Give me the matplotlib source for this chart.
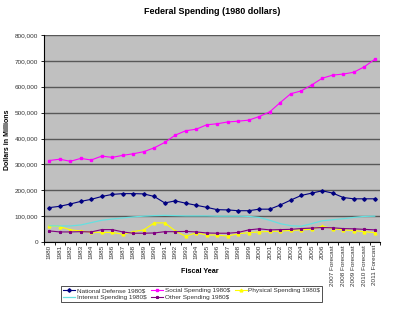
import numpy as np
import matplotlib.pyplot as plt
from matplotlib.ticker import FuncFormatter, MultipleLocator

plt.rcParams['font.family'] = ['Liberation Sans', 'DejaVu Sans']

years = [str(y) for y in range(1980, 2007)] + \
        [f"{y} Forecast" for y in range(2007, 2012)]

# spending in millions of 1980 dollars
defense = [133, 138, 147, 157, 165, 176, 184, 187, 187, 186, 176, 151, 159, 150, 142, 134,
           125, 124, 121, 121, 127, 127, 143, 162, 180, 189, 198, 189, 172, 167, 167, 167]
social = [315, 320, 312, 323, 317, 332, 327, 335, 341, 349, 364, 385, 413, 430, 436, 453,
          457, 464, 467, 471, 485, 503, 539, 573, 584, 607, 633, 645, 649, 656, 677, 706]
physical = [63, 60, 47, 43, 38, 37, 37, 30, 40, 47, 74, 74, 43, 22, 36, 27,
            27, 23, 32, 36, 39, 41, 42, 45, 47, 49, 61, 52, 47, 44, 40, 36]
interest = [63, 62, 62, 66, 75, 84, 89, 93, 97, 100, 102, 103, 102, 101, 101, 101,
            100, 100, 100, 99, 95, 84, 71, 63, 61, 71, 82, 86, 90, 95, 99, 100]
other = [43, 39, 39, 40, 39, 48, 48, 39, 34, 34, 35, 40, 40, 41, 39, 35,
         34, 34, 37, 47, 51, 47, 48, 49, 52, 54, 56, 55, 52, 51, 49, 47]

x = np.arange(len(years))
k = 1000

fig = plt.figure(figsize=(4, 3.24), dpi=100)
ax = fig.add_axes([0.11, 0.253, 0.84, 0.639])
ax.set_facecolor('#C0C0C0')

ax.plot(x, np.array(defense) * k, color='#000080', lw=0.8, marker='D', ms=1.8,
        label='National Defense 1980$')
ax.plot(x, np.array(social) * k, color='#FF00FF', lw=0.8, marker='s', ms=1.8,
        label='Social Spending 1980$')
ax.plot(x, np.array(physical) * k, color='#FFFF00', lw=0.8, marker='^', ms=2,
        label='Physical Spending 1980$')
ax.plot(x, np.array(interest) * k, color='#66E0E0', lw=0.9,
        label='Interest Spending 1980$')
ax.plot(x, np.array(other) * k, color='#800080', lw=0.8, marker='*', ms=2,
        label='Other Spending 1980$')

ax.set_xlim(-0.5, len(years) - 0.5)
ax.set_ylim(0, 800000)
ax.yaxis.set_major_locator(MultipleLocator(100000))
ax.yaxis.set_major_formatter(FuncFormatter(lambda v, p: f"{int(v):,}"))
ax.grid(axis='y', color='#585858', lw=1.0)
ax.set_axisbelow(True)

ax.set_xticks(x)
ax.set_xticklabels(years, rotation=90, fontsize=4.6, color='#333333')
ax.set_xticks(np.arange(-0.5, len(years)), minor=True)
ax.tick_params(axis='x', which='major', length=0, pad=2)
ax.tick_params(axis='x', which='minor', length=2.5, width=0.6)
ax.tick_params(axis='y', length=2.5, width=0.6, pad=1.5, labelsize=4.6,
               labelcolor='#333333')

for side in ['top', 'right']:
    ax.spines[side].set_visible(False)
for side in ['left', 'bottom']:
    ax.spines[side].set_linewidth(0.8)

ax.set_title('Federal Spending (1980 dollars)', fontsize=6.5, fontweight='bold', pad=15)
fig.text(0.02, 0.57, 'Dollars in Millions', fontsize=5.0, fontweight='bold',
         rotation=90, ha='center', va='center')
fig.text(0.5, 0.157, 'Fiscal Year', fontsize=5.2, fontweight='bold', ha='center')

handles, labels = ax.get_legend_handles_labels()
order = [0, 3, 1, 4, 2]
leg = fig.legend([handles[i] for i in order], [labels[i] for i in order],
                 ncol=3, loc='lower left', bbox_to_anchor=(0.145, 0.058),
                 fontsize=4.6, frameon=True, fancybox=False, edgecolor='black',
                 handlelength=1.8, handletextpad=0.3, columnspacing=0.8,
                 borderpad=0.3, labelspacing=0.25)
leg.get_frame().set_linewidth(0.6)
for t in leg.get_texts():
    t.set_color('#333333')

fig.savefig('out.png', dpi=100)
